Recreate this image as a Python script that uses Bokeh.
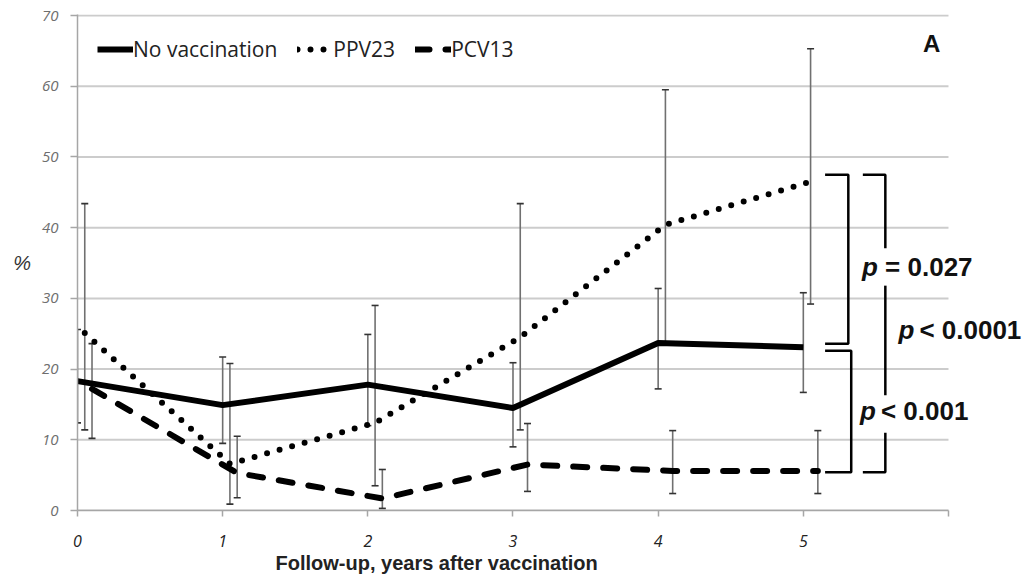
from bokeh.plotting import figure
from bokeh.models import (ColumnDataSource, Whisker, TeeHead, Label, FixedTicker, Legend,
                          LegendItem, Title)
from bokeh.embed import file_html
from bokeh.resources import INLINE

years = [0, 1, 2, 3, 4, 5]
x_tick_labels = ["0", "1", "2", "3", "4", "5"]
y_ticks = [0, 10, 20, 30, 40, 50, 60, 70]

no_vacc = [18.3, 14.9, 17.8, 14.5, 23.7, 23.1]
no_vacc_lo = [12.4, 9.5, 12.0, 9.0, 17.2, 16.7]
no_vacc_hi = [25.6, 21.7, 24.9, 20.9, 31.4, 30.8]

ppv23 = [25.1, 6.6, 12.4, 24.5, 40.4, 46.5]
ppv23_lo = [11.4, 0.9, 3.5, 11.4, 23.5, 29.2]
ppv23_hi = [43.4, 20.8, 29.0, 43.4, 59.5, 65.3]

pcv13 = [17.2, 5.3, 1.7, 6.5, 5.6, 5.6]
pcv13_lo = [10.2, 1.8, 0.3, 2.7, 2.4, 2.4]
pcv13_hi = [23.6, 10.5, 5.8, 12.3, 11.3, 11.3]

p_values = ["= 0.027", "< 0.001", "< 0.0001"]

FONT = "Liberation Sans"
TFONT = "Open Sans"

p = figure(width=1030, height=574, x_range=(0, 6.565), y_range=(0, 70.15),
           output_backend="svg", toolbar_location=None,
           min_border_left=77, min_border_right=0, min_border_top=14, min_border_bottom=64)
p.outline_line_color = None
p.background_fill_color = "white"
p.grid.grid_line_color = None

# horizontal gridlines across the axis extent (0..6)
p.segment(x0=[0] * len(y_ticks), x1=[6] * len(y_ticks), y0=y_ticks, y1=y_ticks,
          line_color="#cccccc", line_width=2, level="underlay")

p.yaxis.ticker = FixedTicker(ticks=y_ticks)
p.xaxis.ticker = FixedTicker(ticks=[0, 1, 2, 3, 4, 5, 6])
p.xaxis.major_label_overrides = {i: t for i, t in zip(years, x_tick_labels)} | {6: ""}
p.xaxis.bounds = (0, 6)

for ax in (p.xaxis, p.yaxis):
    ax.axis_line_color = "#a6a6a6"
    ax.axis_line_width = 1.5
    ax.major_tick_line_color = "#a6a6a6"
    ax.major_tick_line_width = 1.5
    ax.major_tick_in = 0
    ax.minor_tick_line_color = None
    ax.major_label_text_font = TFONT
    ax.major_label_text_font_style = "italic"

p.yaxis.major_tick_out = 7
p.yaxis.major_label_standoff = 12
p.yaxis.major_label_text_font_size = "15px"
p.yaxis.major_label_text_color = "#6e6e6e"
p.yaxis.axis_label = "%"
p.yaxis.axis_label_orientation = "horizontal"
p.yaxis.axis_label_text_font = FONT
p.yaxis.axis_label_text_font_style = "italic"
p.yaxis.axis_label_text_font_size = "20px"
p.yaxis.axis_label_text_color = "#333333"
p.yaxis.axis_label_standoff = 8

p.xaxis.major_tick_out = 6
p.xaxis.major_label_standoff = 18
p.xaxis.major_label_text_font_size = "16px"
p.xaxis.major_label_text_color = "#222222"

# x-axis title, placed under years 0..5
p.add_layout(Title(text="Follow-up, years after vaccination", align="left", offset=198,
                   standoff=0, text_font=FONT, text_font_style="bold", text_font_size="20px",
                   text_color="#222222"), "below")

def xs(off):
    return [y + off for y in years]

series = [
    ("No vaccination", no_vacc, no_vacc_lo, no_vacc_hi, 0.0, dict(line_width=6)),
    ("PPV23", ppv23, ppv23_lo, ppv23_hi, 0.05, dict(line_width=6, line_dash="0 13", line_cap="round")),
    ("PCV13", pcv13, pcv13_lo, pcv13_hi, 0.1, dict(line_width=6, line_dash="14 16", line_cap="round")),
]

items = []
for name, vals, lo, hi, off, style in series:
    src = ColumnDataSource(dict(x=xs(off), y=vals, lo=lo, hi=hi))
    w = Whisker(source=src, base="x", lower="lo", upper="hi", dimension="height",
                line_color="#707070", line_width=1.6,
                upper_head=TeeHead(size=7, line_color="#333333", line_width=1.6),
                lower_head=TeeHead(size=7, line_color="#333333", line_width=1.6))
    p.add_layout(w)
for name, vals, lo, hi, off, style in series:
    src = ColumnDataSource(dict(x=xs(off), y=vals))
    r = p.line("x", "y", source=src, line_color="black", **style)
    items.append(LegendItem(label=name, renderers=[r]))

legend = Legend(items=items, orientation="horizontal", location=(20, 447),
                label_text_font=TFONT, label_text_font_size="21px", label_text_color="#222222",
                glyph_width=36, glyph_height=20, label_height=20, label_standoff=0, spacing=20,
                padding=0, margin=0, border_line_alpha=0, background_fill_alpha=0)
p.add_layout(legend)

# significance brackets (derived from values at year 5)
top = ppv23[5] + 1.0
mid_a = no_vacc[5] + 0.5
mid_b = no_vacc[5] - 0.5
bot = pcv13[5] - 0.2
bx0, bx1 = 5.15, 5.31
cx0, cx1 = 5.41, 5.565
bracket_xs = [
    [bx0, bx1, bx1, bx0],
    [bx0, bx1 + 0.02, bx1 + 0.02, bx0],
    [cx0, cx1, cx1],
    [cx1, cx1],
    [cx1, cx1, cx0],
]
bracket_ys = [
    [top, top, mid_a, mid_a],
    [mid_b, mid_b, bot, bot],
    [top, top, 37.1],
    [31.8, 16.3],
    [11.0, bot, bot],
]
p.multi_line(bracket_xs, bracket_ys, line_color="black", line_width=2.5)

def plabel(x, y, rest, gap):
    p.add_layout(Label(x=x, y=y, text="p", text_font=FONT, text_font_style="bold italic",
                       text_font_size="26px", text_baseline="middle", text_color="#111111"))
    p.add_layout(Label(x=x, y=y, x_offset=gap, text=rest, text_font=FONT,
                       text_font_style="bold", text_font_size="26px", text_baseline="middle",
                       text_color="#111111"))

plabel(5.405, 34.4, p_values[0], 23)
plabel(5.39, 14.1, p_values[1], 21)
plabel(5.655, 25.5, p_values[2], 21)

p.add_layout(Label(x=5.885, y=66.1, text="A", text_font=FONT, text_font_style="bold",
                   text_font_size="24px", text_align="center", text_baseline="middle",
                   text_color="#111111"))

open("out.html", "w").write(file_html(p, INLINE))
